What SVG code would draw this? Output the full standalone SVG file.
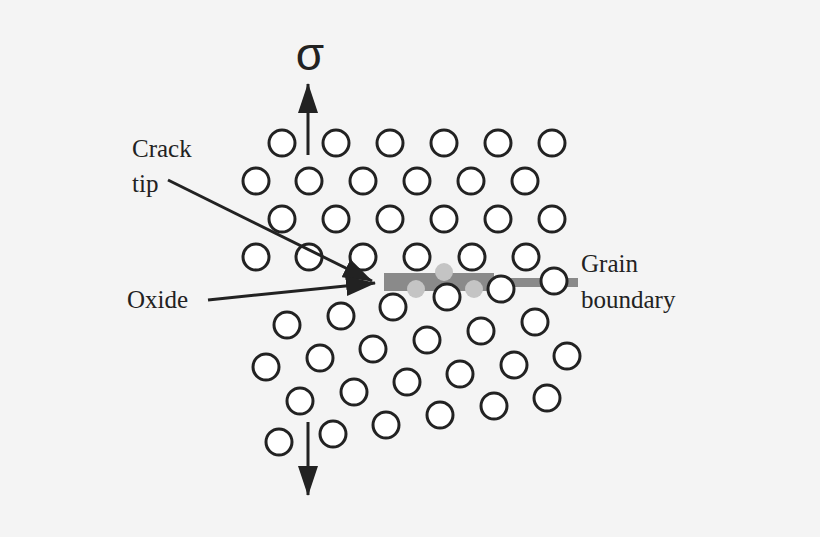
<svg xmlns="http://www.w3.org/2000/svg" width="820" height="537" viewBox="0 0 820 537">
<style>
.a{fill:#fff;stroke:#222;stroke-width:3}
.t{font-family:"Liberation Serif",serif;font-size:25px;fill:#222}
.l{stroke:#222;stroke-width:3;fill:none}
</style>
<defs><marker id="h" markerWidth="10" markerHeight="8" refX="9" refY="4" orient="auto" markerUnits="userSpaceOnUse" viewBox="0 0 10 8"><path d="M0,0L10,4L0,8z" fill="#222"/></marker>
<marker id="H" viewBox="0 0 30 20" refX="29" refY="10" markerWidth="30" markerHeight="20" orient="auto" markerUnits="userSpaceOnUse"><path d="M0,0L30,10L0,20z" fill="#222"/></marker></defs>
<rect width="820" height="537" fill="#f4f4f4"/>
<g id="boundary">
<rect x="384" y="273" width="110" height="18" fill="#8a8a8a"/>
<rect x="494" y="278" width="84" height="9" fill="#8a8a8a"/>
<circle cx="444" cy="272" r="9" fill="#c4c4c4"/>
<circle cx="416" cy="289" r="9" fill="#c4c4c4"/>
<circle cx="474" cy="289" r="9" fill="#c4c4c4"/>
</g>
<g id="atoms">
<circle class="a" cx="282" cy="143" r="13"/><circle class="a" cx="336" cy="143" r="13"/><circle class="a" cx="390" cy="143" r="13"/><circle class="a" cx="444" cy="143" r="13"/><circle class="a" cx="498" cy="143" r="13"/><circle class="a" cx="552" cy="143" r="13"/>
<circle class="a" cx="256" cy="181" r="13"/><circle class="a" cx="309" cy="181" r="13"/><circle class="a" cx="363" cy="181" r="13"/><circle class="a" cx="417" cy="181" r="13"/><circle class="a" cx="471" cy="181" r="13"/><circle class="a" cx="525" cy="181" r="13"/>
<circle class="a" cx="282" cy="219" r="13"/><circle class="a" cx="336" cy="219" r="13"/><circle class="a" cx="390" cy="219" r="13"/><circle class="a" cx="444" cy="219" r="13"/><circle class="a" cx="498" cy="219" r="13"/><circle class="a" cx="552" cy="219" r="13"/>
<circle class="a" cx="256" cy="257" r="13"/><circle class="a" cx="309" cy="257" r="13"/><circle class="a" cx="363" cy="257" r="13"/><circle class="a" cx="417" cy="257" r="13"/><circle class="a" cx="472" cy="257" r="13"/><circle class="a" cx="526" cy="257" r="13"/>
<circle class="a" cx="554" cy="281" r="13"/><circle class="a" cx="501" cy="289" r="13"/><circle class="a" cx="447" cy="297" r="13"/><circle class="a" cx="393" cy="307" r="13"/><circle class="a" cx="341" cy="316" r="13"/><circle class="a" cx="287" cy="325" r="13"/>
<circle class="a" cx="535" cy="322" r="13"/><circle class="a" cx="481" cy="331" r="13"/><circle class="a" cx="427" cy="340" r="13"/><circle class="a" cx="373" cy="349" r="13"/><circle class="a" cx="320" cy="358" r="13"/><circle class="a" cx="266" cy="367" r="13"/>
<circle class="a" cx="567" cy="356" r="13"/><circle class="a" cx="514" cy="365" r="13"/><circle class="a" cx="460" cy="374" r="13"/><circle class="a" cx="407" cy="382" r="13"/><circle class="a" cx="354" cy="392" r="13"/><circle class="a" cx="300" cy="401" r="13"/>
<circle class="a" cx="547" cy="398" r="13"/><circle class="a" cx="494" cy="406" r="13"/><circle class="a" cx="440" cy="415" r="13"/><circle class="a" cx="386" cy="425" r="13"/><circle class="a" cx="333" cy="434" r="13"/><circle class="a" cx="279" cy="442" r="13"/>
</g>
<g id="connectors">
<line class="l" x1="308" y1="155" x2="308" y2="84" marker-end="url(#H)"/>
<line class="l" x1="308" y1="422" x2="308" y2="495" marker-end="url(#H)"/>
<line class="l" x1="168" y1="180" x2="372" y2="281" marker-end="url(#H)"/>
<line class="l" x1="208" y1="300" x2="375" y2="283" marker-end="url(#H)"/>
</g>
<g id="labels">
<text x="310" y="70" text-anchor="middle" style="font-family:'Liberation Sans',sans-serif;font-size:46px;fill:#222">σ</text>
<text class="t" x="132" y="157">Crack</text>
<text class="t" x="132" y="192">tip</text>
<text class="t" x="127" y="308">Oxide</text>
<text class="t" x="581" y="272">Grain</text>
<text class="t" x="581" y="308">boundary</text>
</g>
</svg>
